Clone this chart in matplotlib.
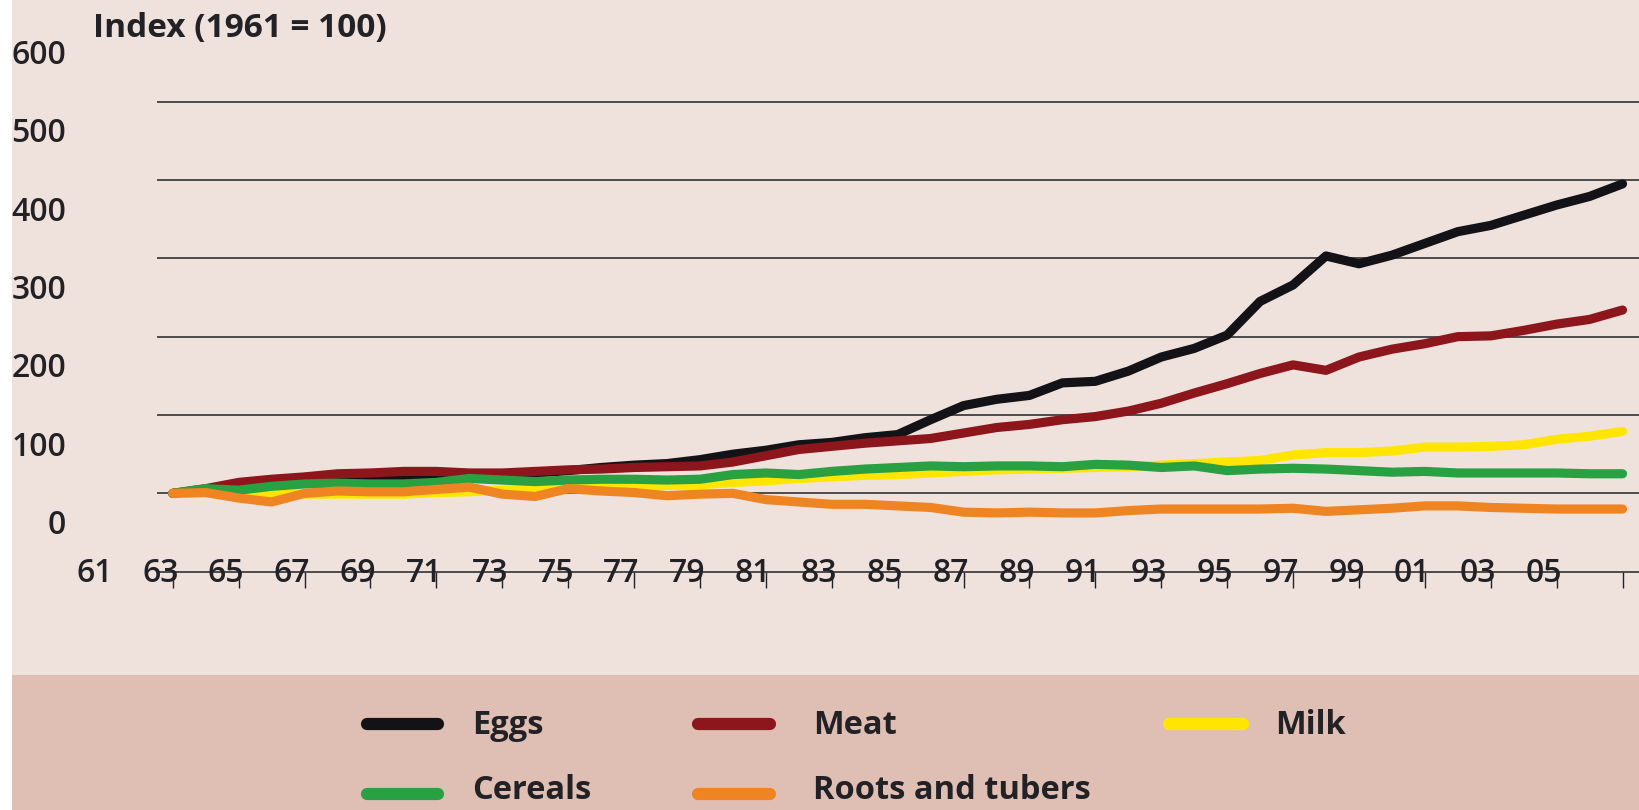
import matplotlib
matplotlib.use("Agg")
import matplotlib.pyplot as plt
from matplotlib.patches import Rectangle

plt.rcParams['font.family'] = ['Open Sans', 'DejaVu Sans']

# data (index, 1963-2007)
years = list(range(1963, 2008))
eggs = [100, 104, 110, 114, 117, 119, 121, 122, 122, 124, 125, 126, 129, 133, 136,
        138, 143, 150, 155, 162, 165, 171, 175, 194, 212, 220, 225, 241, 243, 256,
        274, 285, 302, 345, 366, 403, 393, 404, 419, 434, 442, 455, 468, 479, 495]
meat = [100, 106, 114, 118, 121, 125, 126, 128, 128, 126, 126, 128, 130, 131, 133,
        134, 135, 140, 148, 156, 160, 164, 167, 170, 177, 184, 188, 194, 198, 205,
        215, 228, 240, 253, 264, 257, 274, 284, 291, 300, 301, 308, 316, 322, 334]
milk = [100, 101, 100, 99, 99, 99, 99, 99, 101, 102, 104, 106, 106, 107, 108,
        110, 111, 114, 116, 119, 121, 123, 124, 126, 128, 130, 131, 132, 133, 134,
        136, 138, 140, 142, 149, 152, 152, 154, 159, 159, 160, 162, 169, 173, 179]
cereals = [100, 106, 104, 109, 112, 113, 112, 112, 114, 119, 117, 115, 117, 118, 118,
           117, 118, 124, 126, 124, 128, 131, 133, 135, 134, 135, 135, 134, 137, 136,
           133, 135, 129, 131, 132, 131, 129, 127, 128, 126, 126, 126, 126, 125, 125]
roots = [100, 101, 94, 89, 100, 103, 102, 102, 105, 108, 99, 96, 106, 103, 101,
         97, 99, 100, 92, 89, 86, 86, 84, 82, 76, 75, 76, 75, 75, 78,
         80, 80, 80, 80, 81, 77, 79, 81, 84, 84, 82, 81, 80, 80, 80]

grid_values = [100, 200, 300, 400, 500, 600]
y_labels = ['0', '100', '200', '300', '400', '500', '600']
x_tick_years = list(range(1963, 2008, 2))
x_labels = ['61', '63', '65', '67', '69', '71', '73', '75', '77', '79', '81', '83',
            '85', '87', '89', '91', '93', '95', '97', '99', '01', '03', '05']

series = [
    ('Eggs', eggs, '#121217'),
    ('Milk', milk, '#ffe500'),
    ('Meat', meat, '#8c161b'),
    ('Cereals', cereals, '#29a042'),
    ('Roots and tubers', roots, '#ee8422'),
]

bg = '#efe2dd'
band = '#dfbfb3'
ink = '#222226'

W, H = 1639, 810
fig = plt.figure(figsize=(W / 100, H / 100), dpi=100, facecolor=bg)
fig.patches.append(Rectangle((0, 0), 12 / W, 1, transform=fig.transFigure,
                             facecolor='white', edgecolor='none', zorder=-1))
fig.patches.append(Rectangle((12 / W, 0), 1, 135 / H, transform=fig.transFigure,
                             facecolor=band, edgecolor='none', zorder=-1))

ax = fig.add_axes([12 / W, 1 - 571.7 / H, 1 - 12 / W, 571.7 / H])
ax.patch.set_visible(False)
ax.set_xlim(1958.12, 2007.5)
ax.set_ylim(0, 729.7)

ax.hlines(grid_values, 1962.51, 2007.5, colors=ink, lw=1.1, zorder=1)

for i, (name, vals, col) in enumerate(series):
    ax.plot(years, vals, color=col, lw=6.6, solid_capstyle='round',
            solid_joinstyle='round', zorder=2 + i)

for s in ['top', 'right', 'left']:
    ax.spines[s].set_visible(False)
ax.spines['bottom'].set_bounds(1962.55, 2007.5)
ax.spines['bottom'].set_color(ink)
ax.spines['bottom'].set_linewidth(1.1)

# y labels sit offset from the grid in the original
ax.set_yticks([int(l) + 64 for l in y_labels], labels=y_labels)
ax.tick_params(axis='y', length=0, pad=-38.9, labelsize=23, labelcolor=ink)

ax.set_xticks(x_tick_years, labels=[''] * len(x_tick_years))
ax.tick_params(axis='x', which='major', direction='out', length=11.5, width=1.0, color=ink)
ax.set_xticks([1961 + 2 * i - 0.38 for i in range(len(x_labels))], labels=x_labels, minor=True)
ax.tick_params(axis='x', which='minor', length=0, pad=-10.8, labelsize=23, labelcolor=ink)
for lab in ax.get_xticklabels(minor=True) + ax.get_yticklabels():
    lab.set_fontweight('semibold')

fig.text(93 / W, 1 - 29 / H, 'Index (1961 = 100)', fontsize=24, fontweight='bold',
         color=ink, ha='left', va='center')

# legend band
lax = fig.add_axes([0, 0, 1, 135 / H])
lax.set_xlim(0, W)
lax.set_ylim(H, H - 135)
lax.axis('off')
legend_pos = {
    'Eggs': (360.6, 444.2, 472.5, 724, 734),
    'Meat': (692, 775.6, 813, 724, 734),
    'Milk': (1163, 1249, 1275, 724, 734),
    'Cereals': (360.6, 444.2, 472.5, 794, 799),
    'Roots and tubers': (692, 775.6, 813, 794, 799),
}
for name, vals, col in series:
    x0, x1, tx, y, base = legend_pos[name]
    lax.plot([x0 + 6, x1 - 6], [y, y], color=col, lw=8.8, solid_capstyle='round')
    lax.text(tx, base, name, fontsize=23.5, fontweight='bold', color=ink,
             ha='left', va='baseline')

fig.savefig('out.png', dpi=100, facecolor=bg)
